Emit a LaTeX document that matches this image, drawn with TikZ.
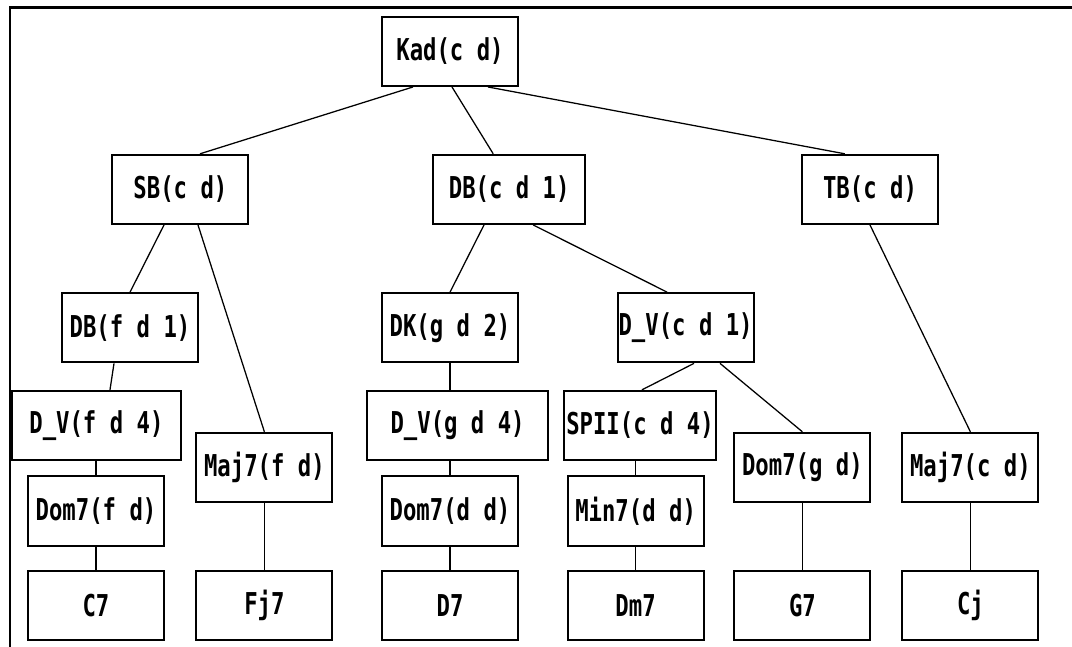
\documentclass[tikz,border=0pt]{standalone}
\usepackage{fontspec}
\newfontfamily\atari[FakeStretch=0.74]{DejaVu Sans Mono}
\begin{document}
\begin{tikzpicture}[
    box/.style   = {draw, line width=1.4pt, minimum width=3.4cm, minimum height=1.73cm,
                    inner sep=0pt, font=\atari\bfseries\fontsize{21.4}{24}\selectfont},
    kante/.style = {line width=0.9pt},
  ]
  \useasboundingbox (0cm, 0cm) rectangle (26.8cm, 16.175cm);
  % Rahmen (nur oben und links)
  \draw[line width=2.1pt] (0.25cm, 0cm) -- (0.25cm, 15.99cm) -- (26.8cm, 15.99cm);
  % Ebene 1 und 2
  \node[box] (kad) at (11.25cm, 14.89cm) {Kad(c d)};
  \node[box] (sb)  at (4.51cm, 11.44cm) {SB(c d)};
  \node[box, minimum width=3.8cm] (dbc) at (12.73cm, 11.44cm) {DB(c d 1)};
  \node[box] (tb)  at (21.75cm, 11.44cm) {TB(c d)};
  % Ebene 3
  \node[box] (dbf) at (3.25cm, 7.98cm) {DB(f d 1)};
  \node[box] (dk)  at (11.25cm, 7.98cm) {DK(g d 2)};
  \node[box] (dvc) at (17.14cm, 7.98cm) {D\_V(c d 1)};
  % Ebene 4
  \node[box, minimum width=4.23cm] (dvf)  at (2.41cm, 5.54cm) {D\_V(f d 4)};
  \node[box, minimum width=4.53cm] (dvg)  at (11.44cm, 5.54cm) {D\_V(g d 4)};
  \node[box, minimum width=3.8cm]  (spii) at (16.0cm, 5.54cm) {SPII(c d 4)};
  \node[box] (maj7f) at (6.61cm, 4.49cm) {Maj7(f d)};
  \node[box] (dom7g) at (20.06cm, 4.49cm) {Dom7(g d)};
  \node[box] (maj7c) at (24.26cm, 4.49cm) {Maj7(c d)};
  \node[box] (dom7f) at (2.4cm, 3.4cm) {Dom7(f d)};
  \node[box] (dom7d) at (11.25cm, 3.4cm) {Dom7(d d)};
  \node[box] (min7)  at (15.89cm, 3.4cm) {Min7(d d)};
  % Akkorde
  \node[box] (c7)  at (2.4cm, 1.03cm) {C7};
  \node[box] (fj7) at (6.61cm, 1.03cm) {Fj7};
  \node[box] (d7)  at (11.25cm, 1.03cm) {D7};
  \node[box] (dm7) at (15.89cm, 1.03cm) {Dm7};
  \node[box] (g7)  at (20.06cm, 1.03cm) {G7};
  \node[box] (cj)  at (24.26cm, 1.03cm) {Cj};
  % Kanten
  \draw[kante] ([xshift=-0.925cm]kad.south) -- ([xshift=0.49cm]sb.north);
  \draw[kante] ([xshift=0.05cm]kad.south) -- ([xshift=-0.4cm]dbc.north);
  \draw[kante] ([xshift=0.95cm]kad.south) -- ([xshift=-0.63cm]tb.north);
  \draw[kante] ([xshift=-0.41cm]sb.south) -- (dbf.north);
  \draw[kante] ([xshift=0.44cm]sb.south) -- (maj7f.north);
  \draw[kante] ([xshift=-0.63cm]dbc.south) -- (dk.north);
  \draw[kante] ([xshift=0.6cm]dbc.south) -- ([xshift=-0.46cm]dvc.north);
  \draw[kante] (tb.south) -- (maj7c.north);
  \draw[kante] ([xshift=-0.4cm]dbf.south) -- ([xshift=0.34cm]dvf.north);
  \draw[kante] (dvf.south -| dom7f) -- (dom7f.north);
  \draw[kante] (dom7f) -- (c7);
  \draw[kante] (maj7f) -- (fj7);
  \draw[kante] (dk) -- (dk |- dvg.north);
  \draw[kante] (dvg.south -| dom7d) -- (dom7d.north);
  \draw[kante] (dom7d) -- (d7);
  \draw[kante] ([xshift=0.21cm]dvc.south) -- ([xshift=0.05cm]spii.north);
  \draw[kante] ([xshift=0.86cm]dvc.south) -- (dom7g.north);
  \draw[kante] (spii.south -| min7) -- (min7.north);
  \draw[kante] (min7) -- (dm7);
  \draw[kante] (dom7g) -- (g7);
  \draw[kante] (maj7c) -- (cj);
\end{tikzpicture}
\end{document}
